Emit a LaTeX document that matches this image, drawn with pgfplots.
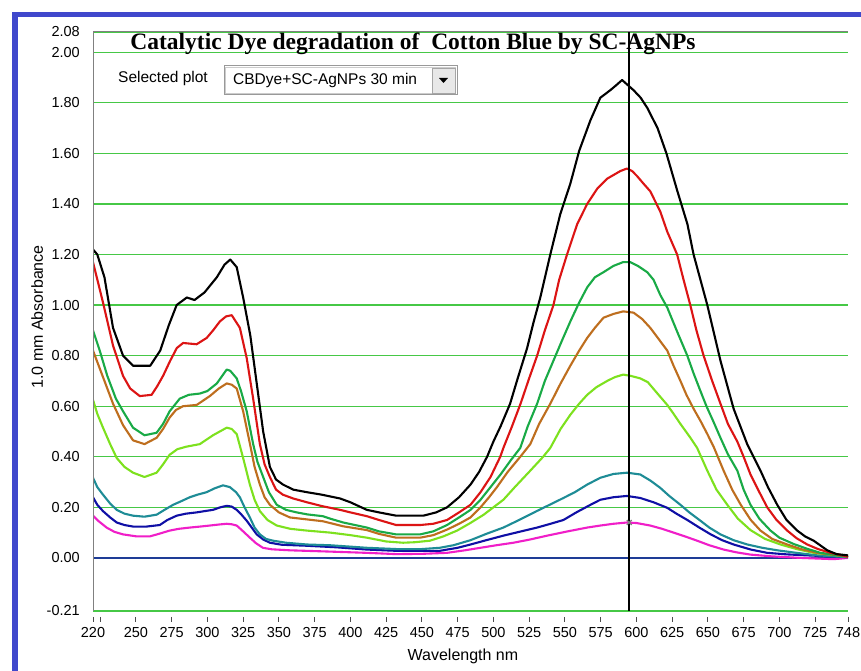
\documentclass[border=0pt]{standalone}
\usepackage{fontspec}
\setmainfont{Liberation Sans}
\newfontfamily\titlefont{Liberation Serif}
\usepackage{pgfplots}
\pgfplotsset{compat=1.18}
\definecolor{gridgreen}{RGB}{70,200,70}
\definecolor{zeroblue}{RGB}{30,60,150}
\definecolor{bordblue}{RGB}{64,72,204}
\definecolor{cred}{RGB}{220,20,20}
\definecolor{cgreen}{RGB}{25,170,70}
\definecolor{cbrown}{RGB}{190,110,30}
\definecolor{clime}{RGB}{125,225,30}
\definecolor{cteal}{RGB}{30,140,150}
\definecolor{cnavy}{RGB}{15,15,165}
\definecolor{cmag}{RGB}{240,30,200}
\begin{document}
\begin{tikzpicture}[x=1pt,y=1pt]
\path[use as bounding box] (0,0) rectangle (861,671);
\fill[white] (0,0) rectangle (861,671);
\fill[bordblue] (12,0) rectangle (18,659);
\fill[bordblue] (12,654) rectangle (861,659);
\begin{axis}[
  at={(93pt,60pt)}, anchor=south west, scale only axis,
  width=755pt, height=579pt,
  xmin=220, xmax=748, ymin=-0.21, ymax=2.08,
  axis line style={draw=none},
  xtick={220,225,250,275,300,325,350,375,400,425,450,475,500,525,550,575,600,625,650,675,700,725,748},
  xticklabels={220,,250,275,300,325,350,375,400,425,450,475,500,525,550,575,600,625,650,675,700,725,748},
  ytick={-0.21,0,0.2,0.4,0.6,0.8,1.0,1.2,1.4,1.6,1.8,2.0,2.08},
  yticklabels={-0.21,0.00,0.20,0.40,0.60,0.80,1.00,1.20,1.40,1.60,1.80,2.00,2.08},
  ymajorgrids, major grid style={gridgreen, line width=1.2pt},
  xtick pos=bottom,
  tick align=inside, major tick length=0pt,
  tick style={draw=none},
  tick label style={font=\fontsize{14.5}{16}\selectfont},
  xticklabel style={anchor=north, inner sep=0pt, yshift=-16pt},
  yticklabel style={anchor=east, inner sep=0pt, xshift=-13pt},
  xlabel={Wavelength nm}, ylabel={1.0 mm Absorbance},
  label style={font=\fontsize{16}{18}\selectfont},
  xlabel style={at={(axis description cs:0.49,-0.078)}, anchor=center},
  ylabel style={at={(axis description cs:-0.074,0.508)}, anchor=center, rotate=0},
  every axis plot/.append style={line width=2.1pt, line join=round},
]
\addplot[zeroblue, line width=1.6pt] coordinates {(220,0)(748,0)};
% magenta
\addplot[cmag] coordinates {(220,0.167)(224,0.145)(229.5,0.12)(235,0.103)(241,0.093)(250.6,0.085)(259.7,0.085)(266,0.095)(273.6,0.108)(280,0.115)(287.7,0.12)(295,0.124)(301.7,0.128)(308,0.132)(313.5,0.135)(317,0.133)(320.5,0.128)(325,0.105)(329.7,0.08)(334,0.058)(338.8,0.04)(345,0.034)(357.7,0.03)(380,0.026)(411.5,0.02)(432,0.015)(450,0.016)(467.6,0.02)(480,0.03)(491,0.04)(502,0.05)(514,0.06)(525,0.072)(537.6,0.088)(552,0.105)(565.6,0.12)(574.8,0.128)(584,0.135)(593.4,0.14)(600,0.138)(609.7,0.128)(618,0.115)(626,0.10)(634,0.085)(642.5,0.068)(651,0.05)(661,0.033)(670,0.022)(679.8,0.013)(695,0.006)(714.8,0.0)(738,-0.005)(748,0.0)};
% navy
\addplot[cnavy] coordinates {(220,0.24)(223,0.21)(227,0.185)(232,0.16)(236.6,0.14)(242,0.13)(248,0.124)(257.5,0.124)(266.7,0.13)(272,0.15)(278.5,0.167)(285,0.175)(292.5,0.18)(298,0.185)(303.9,0.19)(309,0.2)(313.5,0.206)(317,0.203)(320.5,0.19)(324,0.17)(327.5,0.147)(331,0.12)(334.5,0.093)(339,0.073)(343.7,0.06)(352,0.052)(369.6,0.048)(390,0.042)(411.5,0.033)(432,0.028)(462.5,0.028)(475,0.04)(484,0.053)(495,0.07)(507,0.088)(518,0.103)(530.6,0.12)(540,0.135)(549,0.15)(558,0.18)(567.9,0.21)(574.8,0.23)(584,0.24)(593.4,0.245)(602.7,0.237)(612,0.22)(621.6,0.198)(628,0.175)(635.6,0.15)(644,0.12)(652,0.093)(660,0.07)(668,0.053)(680,0.033)(691.5,0.02)(705,0.014)(719.5,0.01)(748,0.003)};
% teal
\addplot[cteal] coordinates {(220,0.317)(223,0.28)(227,0.25)(232,0.215)(236.6,0.19)(242,0.175)(248,0.167)(256,0.163)(264.5,0.171)(270,0.19)(276,0.21)(282,0.225)(287.7,0.24)(293,0.25)(299.5,0.26)(305,0.275)(310.9,0.287)(315.7,0.28)(320,0.26)(322.7,0.24)(326,0.2)(329.7,0.16)(333,0.12)(336.7,0.093)(341,0.075)(346,0.068)(355,0.06)(369.6,0.053)(386,0.05)(411.5,0.04)(432,0.035)(450,0.035)(462.5,0.04)(472,0.05)(484,0.07)(495,0.095)(507,0.12)(518,0.15)(530.6,0.186)(540,0.212)(549,0.237)(557,0.26)(565.6,0.29)(574.8,0.317)(584,0.332)(593.4,0.337)(602.7,0.33)(610,0.305)(616.7,0.277)(623,0.245)(630.8,0.21)(637,0.18)(644.8,0.147)(651,0.12)(658.8,0.093)(668,0.07)(677.6,0.053)(688,0.04)(698.6,0.03)(712,0.02)(726.6,0.01)(748,0.003)};
% lime
\addplot[clime] coordinates {(220,0.625)(223,0.57)(227,0.515)(232,0.45)(236.6,0.395)(242,0.36)(248,0.337)(256,0.32)(264.5,0.337)(269,0.37)(273.6,0.408)(279,0.43)(285.3,0.44)(294.7,0.45)(303.9,0.485)(313.5,0.515)(317,0.51)(320.5,0.49)(325,0.395)(329.7,0.29)(333,0.23)(336.7,0.185)(342,0.15)(348.5,0.128)(358,0.115)(369.6,0.108)(386,0.10)(400,0.09)(411.5,0.08)(425,0.065)(436.8,0.06)(445,0.062)(455.6,0.068)(465,0.085)(474.6,0.108)(483,0.135)(493,0.17)(500,0.20)(507,0.23)(515,0.28)(525.8,0.345)(534.8,0.40)(539.8,0.435)(547,0.51)(553.8,0.566)(560,0.61)(565.6,0.645)(572,0.675)(579.6,0.70)(585,0.715)(590.8,0.725)(596,0.72)(602.7,0.71)(608,0.695)(614,0.655)(621.6,0.605)(626,0.57)(630.8,0.53)(637.8,0.475)(642.5,0.435)(649.6,0.345)(656,0.27)(663.6,0.21)(671,0.155)(679.8,0.11)(690,0.075)(700.8,0.053)(712,0.035)(724,0.02)(748,0.005)};
% brown
\addplot[cbrown] coordinates {(220,0.82)(224,0.76)(228,0.70)(234,0.61)(241,0.525)(248,0.465)(256,0.45)(264.5,0.475)(269,0.51)(273.6,0.555)(278,0.585)(283,0.60)(292.5,0.605)(301.7,0.64)(308,0.67)(313.5,0.69)(317,0.685)(320.5,0.67)(325,0.58)(329.8,0.45)(333,0.36)(336.7,0.29)(340,0.24)(343.7,0.21)(350,0.18)(357.7,0.16)(370,0.152)(380.7,0.145)(395,0.125)(411.5,0.11)(420,0.095)(432,0.08)(448.8,0.08)(458,0.09)(467.6,0.112)(476,0.135)(484,0.16)(491,0.20)(497,0.24)(502.5,0.28)(510,0.34)(518.8,0.40)(525.8,0.45)(532,0.53)(539.8,0.61)(547,0.69)(553.8,0.76)(560,0.82)(565.6,0.87)(571,0.91)(577,0.95)(584,0.965)(590.8,0.975)(598,0.97)(604,0.945)(609.7,0.91)(615,0.87)(621.6,0.82)(626,0.76)(630.8,0.70)(635,0.645)(640,0.59)(645,0.54)(649.6,0.49)(654,0.44)(661,0.345)(667,0.27)(673,0.21)(680,0.15)(686.8,0.108)(695,0.075)(705.5,0.053)(715,0.035)(726.5,0.02)(748,0.005)};
% green
\addplot[cgreen] coordinates {(220,0.90)(224.7,0.82)(230,0.72)(236,0.63)(241,0.58)(248,0.515)(256,0.485)(264.5,0.495)(269,0.53)(273.6,0.58)(280.7,0.63)(287,0.645)(294.7,0.65)(300,0.66)(306.6,0.69)(313.5,0.745)(316,0.74)(320.5,0.71)(323.5,0.66)(327.5,0.58)(332,0.45)(335,0.38)(339,0.32)(343,0.26)(348.5,0.21)(355,0.19)(362.4,0.18)(370,0.172)(380.7,0.165)(386,0.155)(395,0.14)(411.5,0.12)(420,0.105)(432,0.093)(448.8,0.093)(458,0.105)(467.6,0.13)(476,0.16)(484,0.19)(491,0.23)(498,0.28)(505,0.33)(512,0.385)(518.8,0.435)(524,0.52)(530.6,0.61)(536,0.70)(542,0.78)(548,0.86)(553.8,0.935)(560,1.01)(565.6,1.07)(571,1.11)(577,1.13)(584,1.155)(590.8,1.17)(595.7,1.17)(601,1.155)(607.6,1.13)(612,1.10)(616.7,1.04)(621.6,0.99)(628.5,0.895)(635.6,0.80)(640,0.73)(644.8,0.66)(649,0.60)(653.8,0.54)(658.8,0.475)(664,0.41)(670.6,0.345)(675,0.27)(679.8,0.21)(686,0.155)(693.8,0.108)(700,0.08)(710,0.055)(720,0.035)(728.8,0.02)(748,0.005)};
% red
\addplot[cred] coordinates {(220,1.17)(227,1.01)(234,0.84)(241,0.72)(246,0.67)(252.7,0.64)(261,0.645)(265,0.68)(269,0.72)(274,0.78)(278.6,0.83)(283,0.85)(292.5,0.845)(299.5,0.87)(304,0.90)(308.7,0.935)(313,0.955)(317,0.96)(322.7,0.91)(327.5,0.79)(332,0.63)(336.7,0.45)(340,0.37)(343.7,0.32)(348,0.27)(352.8,0.25)(360,0.235)(369.6,0.22)(380,0.205)(392.8,0.19)(400,0.18)(411.5,0.165)(420,0.15)(432,0.13)(448.8,0.13)(458,0.135)(467.6,0.15)(476,0.18)(484,0.21)(491,0.26)(498,0.32)(504.8,0.40)(507,0.435)(513,0.52)(519,0.61)(525,0.71)(530.6,0.80)(536,0.90)(542,1.00)(546,1.10)(551.5,1.20)(558.6,1.32)(565.6,1.40)(572.6,1.46)(579.6,1.50)(588.8,1.53)(593.4,1.54)(597,1.53)(600.5,1.51)(605,1.48)(609.7,1.45)(616.7,1.37)(621.6,1.29)(628.5,1.20)(633,1.10)(637.7,1.00)(642,0.90)(647,0.80)(653,0.70)(658.8,0.61)(664,0.53)(670.6,0.46)(675,0.40)(679.8,0.33)(686,0.26)(691.5,0.20)(698,0.15)(705.5,0.108)(712,0.078)(719.5,0.053)(727,0.035)(735.8,0.02)(748,0.005)};
% black
\addplot[black] coordinates {(220,1.22)(223,1.20)(228,1.11)(234,0.91)(241,0.80)(248,0.76)(260,0.76)(267,0.82)(273,0.92)(278.5,1.00)(285.6,1.03)(291,1.02)(298,1.05)(306.6,1.11)(312,1.16)(316,1.18)(320.5,1.15)(325,1.03)(330,0.88)(334.5,0.69)(339,0.50)(343.7,0.36)(348,0.31)(352.9,0.29)(360,0.27)(369.5,0.26)(380,0.25)(392.8,0.235)(400,0.22)(411.5,0.19)(420,0.18)(432,0.167)(451,0.167)(460,0.18)(467.6,0.20)(476,0.24)(484,0.29)(490,0.34)(495.6,0.40)(500,0.46)(505,0.52)(511.7,0.61)(517,0.71)(523.6,0.83)(528,0.93)(532.8,1.03)(539.8,1.20)(546.8,1.36)(553.8,1.48)(560,1.61)(567.8,1.73)(574.8,1.82)(581.8,1.85)(586,1.87)(590,1.89)(594,1.87)(598,1.85)(603,1.82)(607.6,1.78)(614.8,1.70)(621,1.60)(628.7,1.45)(635.7,1.32)(640,1.20)(649.6,1.00)(658.8,0.78)(668,0.59)(677.5,0.45)(686.8,0.345)(692,0.28)(698.5,0.21)(705,0.15)(712.5,0.108)(718,0.085)(724,0.068)(733.5,0.03)(740,0.015)(748,0.01)};
% cursor
\addplot[black, line width=2pt] coordinates {(595,-0.215)(595,2.08)};
\addplot[only marks, mark=x, mark size=3.5pt, mark options={line width=1.2pt}, color=gray] coordinates {(595,0.14)};
\draw[gray, line width=1pt] (rel axis cs:0,0) -- (rel axis cs:0,1) -- (rel axis cs:1,1);
\end{axis}
% x tick marks (detached below the axis)
\foreach \t in {220,225,250,275,300,325,350,375,400,425,450,475,500,525,550,575,600,625,650,675,700,725,748}{
  \pgfmathsetmacro{\tx}{93+(\t-220)*1.429924}
  \draw[black!70, line width=1pt] (\tx,54) -- (\tx,49);
}
% title
\node[font=\titlefont\bfseries\fontsize{23.5}{26}\selectfont, anchor=center] at (413,627) {Catalytic Dye degradation of\ \ Cotton Blue by SC-AgNPs};
% selected plot box
\node[font=\fontsize{15.5}{17}\selectfont, anchor=west, inner sep=0pt] at (118,592) {Selected plot};
\draw[gray!80, fill=white, line width=1pt] (224,576) rectangle (457,605);
\draw[gray!40, line width=1pt] (225.5,577.5) rectangle (455.5,603.5);
\node[font=\fontsize{15.5}{17}\selectfont, anchor=west, inner sep=0pt] at (233,590.5) {CBDye+SC-AgNPs 30 min};
\draw[gray!70, fill=gray!18, line width=0.8pt] (432,578) rectangle (455,603);
\fill[black] (439,593) -- (448,593) -- (443.5,588) -- cycle;
\end{tikzpicture}
\end{document}
